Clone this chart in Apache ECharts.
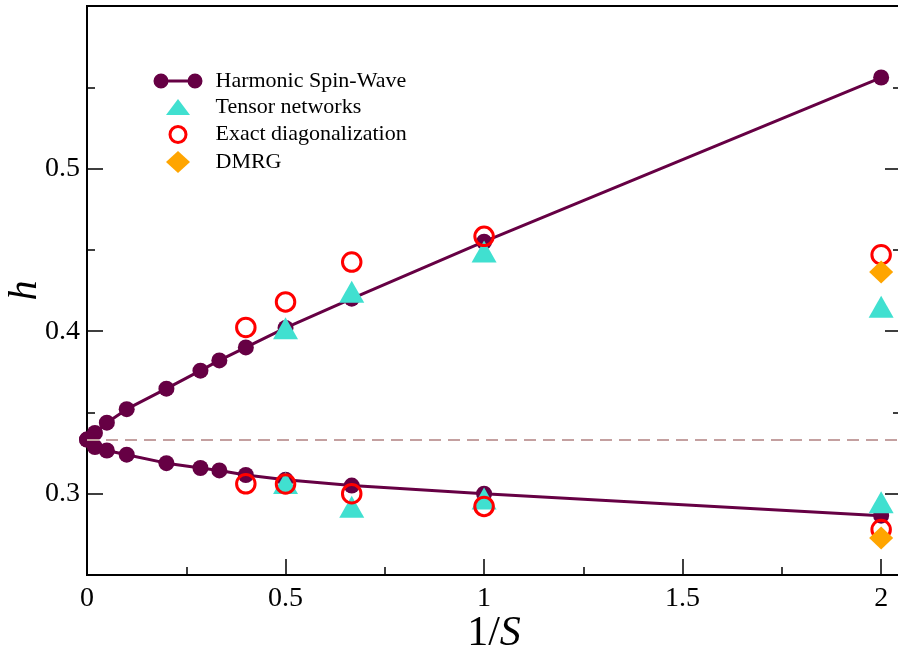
<!DOCTYPE html>
<html>
<head>
<meta charset="utf-8">
<script src="https://cdn.jsdelivr.net/npm/echarts@6/dist/echarts.min.js"></script>
<style>
  html, body { margin: 0; padding: 0; background: #fff; }
  #chart { width: 898px; height: 650px; }
</style>
</head>
<body>
<div id="chart"></div>
<script>
// 1/S values for the spin-wave curve
const invS = [0, 0.02, 0.05, 0.1, 0.2, 0.2857, 0.3333, 0.4, 0.5, 0.6667, 1, 2];
const hswUpper = [0.3333, 0.3374, 0.3437, 0.352, 0.3646, 0.3757, 0.382, 0.39, 0.402, 0.42, 0.455, 0.556];
const hswLower = [0.3333, 0.3287, 0.3266, 0.324, 0.3188, 0.3158, 0.3143, 0.3115, 0.3086, 0.305, 0.3, 0.2865];

const tnX = [0.5, 0.6667, 1, 2];
const tnUpper = [0.4018, 0.4242, 0.449, 0.415];
const tnLower = [0.3066, 0.292, 0.297, 0.2948];

const edX = [0.4, 0.5, 0.6667, 1, 2];
const edUpper = [0.4023, 0.418, 0.4425, 0.4583, 0.447];
const edLower = [0.3061, 0.306, 0.3, 0.2922, 0.278];

const dmrgX = [2];
const dmrgUpper = [0.4364];
const dmrgLower = [0.2728];

const classicalH = 1 / 3;

const xMajorTicks = [0, 0.5, 1, 1.5, 2];
const xMinorTicks = [0.25, 0.75, 1.25, 1.75];
const yMajorTicks = [0.3, 0.4, 0.5];
const yMinorTicks = [0.35, 0.45, 0.55];

const SERIF = "'Liberation Serif', 'DejaVu Serif', serif";
const MAROON = "#660044";

function zip(xs, ys) {
  return xs.map((x, i) => [x, ys[i]]);
}

// legend icons, all drawn in the same 49x22 box
const ICON_HSW =
  "path://M0,0 M49,22 M0,11 A7.5,7.5 0 1,1 15,11 A7.5,7.5 0 1,1 0,11 Z " +
  "M34,11 A7.5,7.5 0 1,1 49,11 A7.5,7.5 0 1,1 34,11 Z M14,9.5 L35,9.5 L35,12.5 L14,12.5 Z";
const ICON_TN = "path://M0,0 M49,22 M24.5,3 L36.5,19 L12.5,19 Z";
const ICON_ED = "path://M0,0 M49,22 M16.5,11 A8,8 0 1,1 32.5,11 A8,8 0 1,1 16.5,11 Z";
const ICON_DMRG = "path://M0,0 M49,22 M24.5,0 L36.5,11 L24.5,22 L12.5,11 Z";

const xRange = { min: 0, max: 2.05 };
const yRange = { min: 0.25, max: 0.6 };

function tickAxis(extra) {
  return Object.assign(
    {
      type: "value",
      axisLine: { show: false },
      axisLabel: { show: false },
      splitLine: { show: false },
    },
    extra
  );
}

const chart = echarts.init(document.getElementById("chart"));

const option = {
  animation: false,
  backgroundColor: "#fff",
  grid: {
    left: 87,
    right: -3,
    top: 6,
    bottom: 75,
    containLabel: false,
    outerBoundsMode: "none",
    show: true,
    borderColor: "#000",
    borderWidth: 2,
  },
  legend: {
    left: 152,
    top: 70,
    padding: 0,
    orient: "vertical",
    itemWidth: 49,
    itemHeight: 22,
    itemGap: 4,
    selectedMode: false,
    textStyle: {
      fontFamily: SERIF,
      fontSize: 22,
      lineHeight: 22,
      color: "#000",
      padding: [0, 0, 0, 8],
    },
    data: [
      { name: "Harmonic Spin-Wave", icon: ICON_HSW },
      { name: "Tensor networks", icon: ICON_TN },
      { name: "Exact diagonalization", icon: ICON_ED, itemStyle: { borderWidth: 3 } },
      { name: "DMRG", icon: ICON_DMRG },
    ],
  },
  xAxis: [
    {
      type: "value",
      ...xRange,
      position: "bottom",
      axisLine: { show: true, lineStyle: { color: "#000", width: 2 } },
      axisTick: {
        show: true,
        inside: true,
        length: 16,
        customValues: xMajorTicks,
        lineStyle: { color: "#000", width: 1.5 },
      },
      axisLabel: {
        customValues: xMajorTicks,
        margin: 10,
        fontFamily: SERIF,
        fontSize: 28,
        color: "#000",
      },
      splitLine: { show: false },
      name: "{n|1/}{i|S}",
      nameLocation: "middle",
      nameGap: 38,
      nameMoveOverlap: false,
      nameTextStyle: {
        rich: {
          n: { fontFamily: SERIF, fontSize: 42, color: "#000" },
          i: { fontFamily: SERIF, fontSize: 42, fontStyle: "italic", color: "#000" },
        },
      },
    },
    tickAxis({
      ...xRange,
      position: "bottom",
      axisTick: {
        show: true,
        inside: true,
        length: 8,
        customValues: xMinorTicks,
        lineStyle: { color: "#000", width: 1.5 },
      },
    }),
  ],
  yAxis: [
    {
      type: "value",
      ...yRange,
      position: "left",
      axisLine: { show: true, lineStyle: { color: "#000", width: 2 } },
      axisTick: {
        show: true,
        inside: true,
        length: 16,
        customValues: yMajorTicks,
        lineStyle: { color: "#000", width: 1.5 },
      },
      axisLabel: {
        customValues: yMajorTicks,
        margin: 7,
        fontFamily: SERIF,
        fontSize: 28,
        color: "#000",
      },
      splitLine: { show: false },
      name: "h",
      nameLocation: "middle",
      nameRotate: 90,
      nameGap: 42,
      nameMoveOverlap: false,
      nameTextStyle: {
        fontFamily: SERIF,
        fontSize: 40,
        fontStyle: "italic",
        color: "#000",
      },
    },
    tickAxis({
      ...yRange,
      position: "left",
      axisTick: {
        show: true,
        inside: true,
        length: 8,
        customValues: yMinorTicks,
        lineStyle: { color: "#000", width: 1.5 },
      },
    }),
    tickAxis({
      ...yRange,
      position: "right",
      axisTick: {
        show: true,
        inside: true,
        length: 16,
        customValues: yMajorTicks,
        lineStyle: { color: "#000", width: 1.5 },
      },
    }),
    tickAxis({
      ...yRange,
      position: "right",
      axisTick: {
        show: true,
        inside: true,
        length: 8,
        customValues: yMinorTicks,
        lineStyle: { color: "#000", width: 1.5 },
      },
    }),
  ],
  series: [
    {
      name: "Harmonic Spin-Wave",
      type: "line",
      z: 2,
      data: zip(invS, hswUpper),
      symbol: "circle",
      symbolSize: 16,
      showSymbol: true,
      itemStyle: { color: MAROON, opacity: 1 },
      lineStyle: { color: MAROON, width: 3 },
      markLine: {
        silent: true,
        symbol: "none",
        precision: 10,
        label: { show: false },
        lineStyle: { type: [12, 7], color: "#c4a0a0", width: 2 },
        data: [{ yAxis: classicalH }],
      },
    },
    {
      name: "Harmonic Spin-Wave",
      type: "line",
      z: 2,
      data: zip(invS, hswLower),
      symbol: "circle",
      symbolSize: 16,
      showSymbol: true,
      itemStyle: { color: MAROON, opacity: 1 },
      lineStyle: { color: MAROON, width: 3 },
    },
    {
      name: "Tensor networks",
      type: "scatter",
      z: 3,
      data: zip(tnX, tnUpper).concat(zip(tnX, tnLower)),
      symbol: "triangle",
      symbolSize: [25, 22],
      itemStyle: { color: "#40e0d0", opacity: 1 },
    },
    {
      name: "Exact diagonalization",
      type: "scatter",
      z: 4,
      data: zip(edX, edUpper).concat(zip(edX, edLower)),
      symbol: "circle",
      symbolSize: 18.5,
      itemStyle: { color: "rgba(0,0,0,0)", borderColor: "#ff0000", borderWidth: 3, opacity: 1 },
    },
    {
      name: "DMRG",
      type: "scatter",
      z: 5,
      data: zip(dmrgX, dmrgUpper).concat(zip(dmrgX, dmrgLower)),
      symbol: "diamond",
      symbolSize: [24, 23],
      itemStyle: { color: "#ffa500", opacity: 1 },
    },
  ],
};

chart.setOption(option);
</script>
</body>
</html>
